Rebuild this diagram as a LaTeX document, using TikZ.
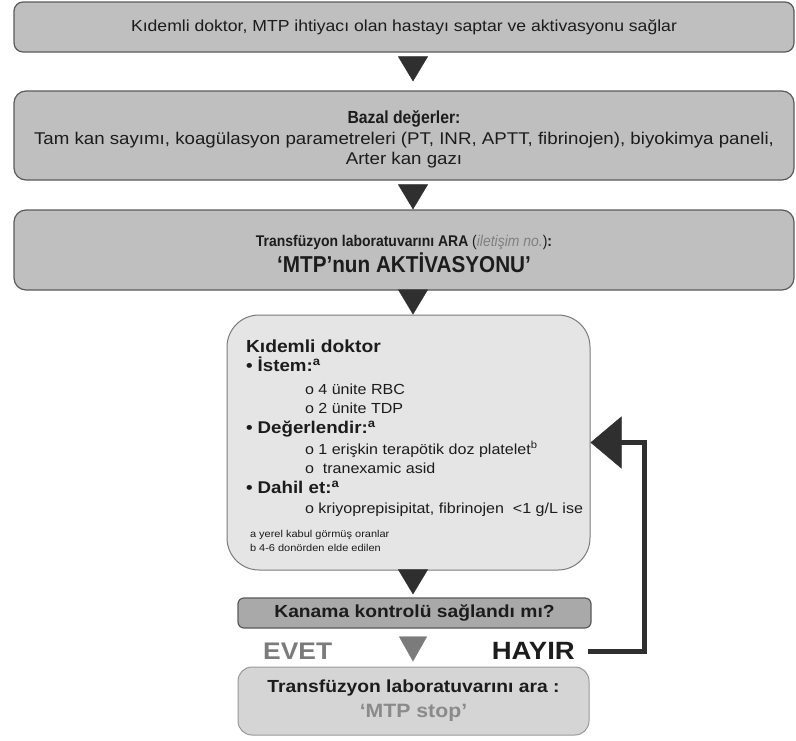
\documentclass[tikz,border=0pt]{standalone}
\usepackage{fontspec}
\setmainfont[FakeStretch=1.1]{Liberation Sans}
\newfontfamily\condfont[FakeStretch=0.9]{Liberation Sans}
\usepackage{xcolor}
\usetikzlibrary{arrows.meta,positioning}

\definecolor{boxgray}{HTML}{BFBFBF}
\definecolor{boxline}{HTML}{5A5A5A}
\definecolor{docgray}{HTML}{E5E5E5}
\definecolor{askgray}{HTML}{A9A9A9}
\definecolor{stopgray}{HTML}{D5D5D5}
\definecolor{tipdark}{HTML}{2F2F2F}
\definecolor{tipgray}{HTML}{7B7B7B}
\definecolor{inkdark}{HTML}{1C1C1C}
\definecolor{mtpgray}{HTML}{8A8A8A}

\newcommand{\fsz}[2]{\fontsize{#1}{#2}\selectfont}

\begin{document}
\begin{tikzpicture}[
    x=1pt, y=1pt,
    wide/.style={rectangle, draw=boxline, fill=boxgray, line width=1.2pt, rounded corners=9pt, align=center, minimum width=780pt, text=inkdark, inner sep=0pt},
    docbox/.style={rectangle, draw=boxline!80, fill=docgray, line width=1pt, rounded corners=32pt, inner sep=0pt, text=inkdark},
    askbox/.style={rectangle, draw=boxline, fill=askgray, line width=1.2pt, rounded corners=6pt, minimum width=353pt, minimum height=30pt, inner sep=0pt, text=inkdark},
    stopbox/.style={rectangle, draw=gray!80, fill=stopgray, line width=1pt, rounded corners=14pt, minimum width=351pt, minimum height=68pt, inner sep=0pt, align=center, text=inkdark},
    downtip/.style 2 args={draw=white, line width=0.1pt, -{Triangle[length=25pt, width=30pt, line width=0.4pt, color=tipdark]}, shorten <=#1, shorten >=#2},
    greytip/.style 2 args={draw=white, line width=0.1pt, -{Triangle[length=25pt, width=28pt, line width=0.4pt, color=tipgray]}, shorten <=#1, shorten >=#2},
    backloop/.style={draw=tipdark, line width=5pt, -{Triangle[length=31pt, width=52pt, line width=0.5pt]}}
]
    \useasboundingbox (0,0) rectangle (796,-740);

    \node [wide, minimum height=50pt, font=\fsz{16}{19}] (n1) at (404,-27) {Kıdemli doktor, MTP ihtiyacı olan hastayı saptar ve aktivasyonu sağlar};
    \node [wide, minimum height=89pt, rounded corners=12pt, font=\fsz{17}{20.5}] (n2) at (404,-135.5) {\rule{0pt}{21pt}{\condfont\bfseries\fsz{17.5}{20.5}Bazal değerler:}\\Tam kan sayımı, koagülasyon parametreleri (PT, INR, APTT, fibrinojen), biyokimya paneli,\\Arter kan gazı};
    \node [wide, minimum height=80pt, rounded corners=12pt, font=\condfont\bfseries\fsz{15.5}{26}] (n3) at (404,-250) {\rule{0pt}{20pt}Transfüzyon laboratuvarını ARA {\mdseries(\textit{\color{gray}iletişim no.})}:\\{\fsz{23}{26}‘MTP’nun AKTİVASYONU’}};

    \node [docbox] (n4) at (408.5,-442.5) {%
      \begin{minipage}[c][255pt][t]{363pt}
        \setlength{\parindent}{0pt}\leftskip=19pt
        \vspace*{25pt}
        \fsz{17.5}{19}\bfseries Kıdemli doktor\par
        \fsz{17}{19}• İstem:\textsuperscript{a}\par
        \mdseries\fsz{14.6}{23}\hspace*{59pt}o 4 ünite RBC\par
        \fsz{14.6}{19}\hspace*{59pt}o 2 ünite TDP\par
        \bfseries\fsz{17}{20}• Değerlendir:\textsuperscript{a}\par
        \mdseries\fsz{14.6}{20.5}\hspace*{59pt}\mbox{o 1 erişkin terapötik doz platelet\textsuperscript{b}}\par
        \fsz{14.6}{19.5}\hspace*{59pt}o\ \ tranexamic asid\par
        \bfseries\fsz{17}{20}• Dahil et:\textsuperscript{a}\par
        \mdseries\fsz{14.6}{20}\hspace*{59pt}\mbox{o kriyoprepisipitat, fibrinojen\ \ <1 g/L ise}\par
        \fsz{10}{24}\hspace*{4pt}a yerel kabul görmüş oranlar\par
        \fsz{10}{14}\hspace*{4pt}b 4-6 donörden elde edilen\par
      \end{minipage}};

    \node [askbox, font=\bfseries\fsz{17.5}{20}] (n5) at (414.5,-613) {Kanama kontrolü sağlandı mı?};
    \node [anchor=west, inner sep=0pt, font=\bfseries\fsz{24}{24}, text=tipgray] (evet) at (263,-651) {EVET};
    \node [anchor=east, inner sep=0pt, font=\bfseries\fsz{25}{25}, text=inkdark] (hayir) at (575,-651) {HAYIR};
    \node [stopbox, font=\bfseries\fsz{17.5}{25}] (n6) at (413.5,-701) {Transfüzyon laboratuvarını ara :\\{\color{mtpgray}\fsz{19.3}{25}‘MTP stop’}};

    \coordinate (axis) at (413,0);
    \coordinate (turn) at (644,-651);

    \draw [downtip={5pt}{9pt}] (n1.south -| axis) -- (n2.north -| axis);
    \draw [downtip={5pt}{0pt}] (n2.south -| axis) -- (n3.north -| axis);
    \draw [downtip={0pt}{0pt}] (n3.south -| axis) -- (n4.north -| axis);
    \draw [downtip={0pt}{3pt}] (n4.south -| axis) -- (n5.north -| axis);
    \draw [greytip={9pt}{5pt}] (n5.south -| axis) -- (n6.north -| axis);
    \draw [backloop, shorten <=13pt] (hayir.east) -- (turn) |- (n4.east);
\end{tikzpicture}
\end{document}
